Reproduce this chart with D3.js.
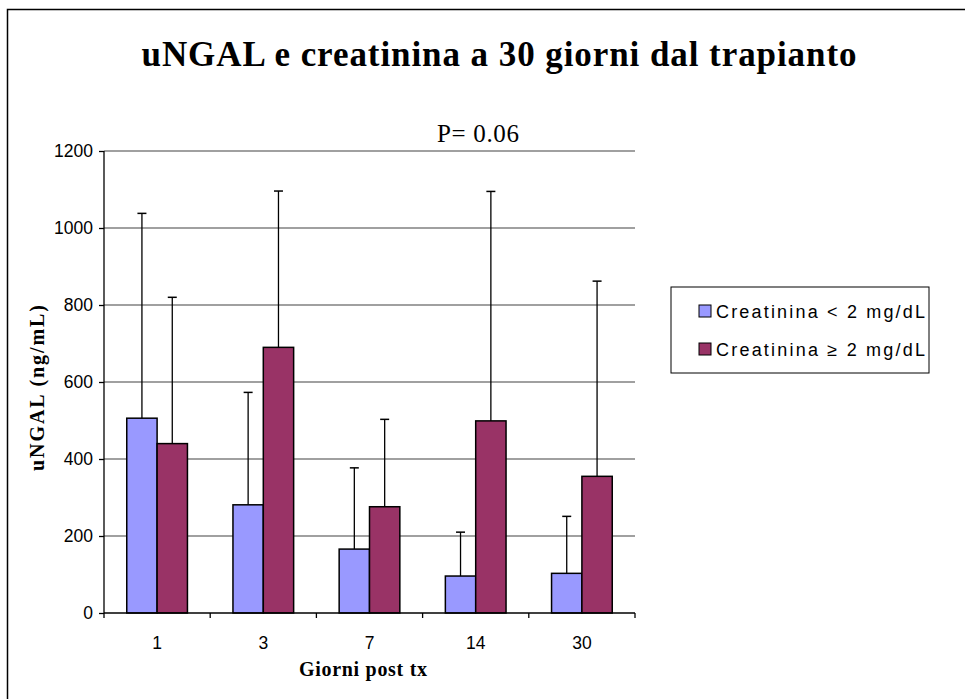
<!DOCTYPE html>
<html><head><meta charset="utf-8">
<script src="https://cdn.jsdelivr.net/npm/d3@7"></script>
<style>body{margin:0;background:#fff}svg{display:block}</style>
</head><body>
<svg id="c" width="965" height="699"></svg>
<script>
const categories = ["1","3","7","14","30"];
const seriesNames = ["Creatinina < 2 mg/dL", "Creatinina \u2265 2 mg/dL"];
const lowValues = [506, 281, 166, 96, 103];
const lowErrTop = [1038, 573, 377, 210, 251];
const highValues = [440, 690, 276, 499, 355];
const highErrTop = [820, 1096, 503, 1095, 862];
const yTicks = [0, 200, 400, 600, 800, 1000, 1200];
const colors = ["#9999FF", "#993366"];

const svg = d3.select("#c");
const L = 104, R = 635, T = 151, B = 613;
const sans = "Arial, 'Liberation Sans', sans-serif";
const serif = "'Times New Roman', 'Liberation Serif', serif";

// outer border
svg.append("rect").attr("x", 7.5).attr("y", 9.5).attr("width", 1000).attr("height", 1000)
  .attr("fill", "none").attr("stroke", "#000").attr("stroke-width", 1.5);

const x = d3.scaleBand().domain(categories).range([L, R]).padding(0);
const y = d3.scaleLinear().domain([0, 1200]).range([B, T]);
const bw = x.bandwidth() / 3.5;

// gridlines
svg.append("g").selectAll("line").data(yTicks.filter(d => d > 0)).join("line")
  .attr("x1", L).attr("x2", R).attr("y1", d => y(d)).attr("y2", d => y(d))
  .attr("stroke", "#808080").attr("stroke-width", 1.5);

const series = [
  {vals: lowValues, err: lowErrTop, color: colors[0], off: 0.75},
  {vals: highValues, err: highErrTop, color: colors[1], off: 1.75}
];

series.forEach(s => {
  const g = svg.append("g");
  g.selectAll("line.e").data(categories).join("line").attr("class", "e")
    .attr("x1", (c) => x(c) + bw * (s.off + 0.5)).attr("x2", (c) => x(c) + bw * (s.off + 0.5))
    .attr("y1", (c, i) => y(s.vals[i])).attr("y2", (c, i) => y(s.err[i]))
    .attr("stroke", "#000").attr("stroke-width", 1.3);
  g.selectAll("line.cap").data(categories).join("line").attr("class", "cap")
    .attr("x1", (c) => x(c) + bw * (s.off + 0.5) - 4.5).attr("x2", (c) => x(c) + bw * (s.off + 0.5) + 4.5)
    .attr("y1", (c, i) => y(s.err[i])).attr("y2", (c, i) => y(s.err[i]))
    .attr("stroke", "#000").attr("stroke-width", 1.5);
});
series.forEach(s => {
  svg.append("g").selectAll("rect").data(categories).join("rect")
    .attr("x", c => x(c) + bw * s.off).attr("width", bw)
    .attr("y", (c, i) => y(s.vals[i])).attr("height", (c, i) => B - y(s.vals[i]))
    .attr("fill", s.color).attr("stroke", "#000").attr("stroke-width", 1.5);
});

// y axis
const ya = svg.append("g").attr("transform", `translate(${L},0)`)
  .call(d3.axisLeft(y).tickValues(yTicks).tickSize(5).tickPadding(6).tickFormat(d3.format("d")));
ya.attr("font-size", null).attr("font-family", null);
ya.select(".domain").attr("stroke", "#000").attr("stroke-width", 1.3).attr("d", `M0,${T}V${B}`);
ya.selectAll(".tick line").attr("stroke", "#000").attr("stroke-width", 1.3);
ya.selectAll(".tick text").attr("font-family", sans).attr("font-size", 17.5).attr("fill", "#000");

// x axis
const xa = svg.append("g").attr("transform", `translate(0,${B})`);
xa.append("line").attr("x1", L).attr("x2", R).attr("stroke", "#000").attr("stroke-width", 1.3);
const bounds = categories.map(c => x(c)).concat([R]);
xa.selectAll("line.t").data(bounds).join("line").attr("class", "t")
  .attr("x1", d => d).attr("x2", d => d).attr("y1", 0).attr("y2", 5).attr("stroke", "#000").attr("stroke-width", 1.3);
xa.selectAll("text").data(categories).join("text")
  .attr("x", c => x(c) + x.bandwidth() / 2).attr("y", 36).attr("text-anchor", "middle")
  .attr("font-family", sans).attr("font-size", 17.5).text(c => c);

// titles
svg.append("text").attr("x", 499).attr("y", 66).attr("text-anchor", "middle")
  .attr("font-family", serif).attr("font-weight", "bold")
  .attr("font-size", 35).attr("textLength", 715).attr("lengthAdjust", "spacing")
  .text("uNGAL e creatinina a 30 giorni dal trapianto");
svg.append("text").attr("x", 478).attr("y", 142).attr("text-anchor", "middle")
  .attr("font-family", serif)
  .attr("font-size", 25).attr("textLength", 82).attr("lengthAdjust", "spacing").text("P= 0.06");
svg.append("text").attr("x", 363).attr("y", 676).attr("text-anchor", "middle")
  .attr("font-family", serif).attr("font-weight", "bold")
  .attr("font-size", 20).attr("textLength", 128).attr("lengthAdjust", "spacing").text("Giorni post  tx");
svg.append("text").attr("transform", "translate(44,388) rotate(-90)").attr("text-anchor", "middle")
  .attr("font-family", serif).attr("font-weight", "bold")
  .attr("font-size", 20).attr("textLength", 166).attr("lengthAdjust", "spacing").text("uNGAL (ng/mL)");

// legend
const lg = svg.append("g");
lg.append("rect").attr("x", 671).attr("y", 287).attr("width", 258).attr("height", 86)
  .attr("fill", "#fff").attr("stroke", "#000").attr("stroke-width", 1);
seriesNames.forEach((n, i) => {
  const yy = 311 + i * 38;
  lg.append("rect").attr("x", 699).attr("y", yy - 6).attr("width", 12).attr("height", 12)
    .attr("fill", colors[i]).attr("stroke", "#000").attr("stroke-width", 1);
  lg.append("text").attr("x", 716).attr("y", yy + 6.5)
    .attr("font-family", sans).attr("font-size", 18)
    .attr("textLength", 209).attr("lengthAdjust", "spacing").text(n);
});
</script>
</body></html>
